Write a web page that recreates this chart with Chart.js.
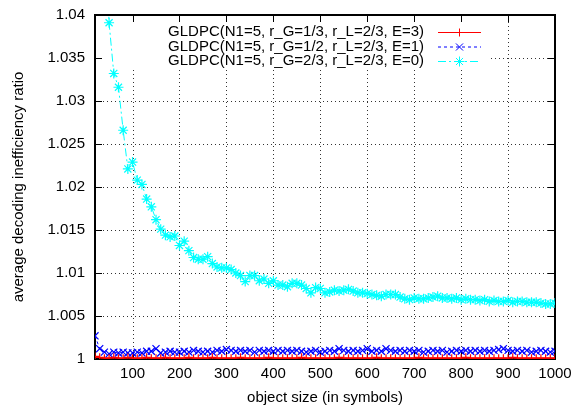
<!DOCTYPE html>
<html>
<head>
<meta charset="utf-8">
<script src="https://cdn.jsdelivr.net/npm/chart.js@4"></script>
<style>
  body { margin: 0; background: #fff; }
  #wrap { width: 572px; height: 407px; }
</style>
</head>
<body>
<div id="wrap"><canvas id="myChart"></canvas></div>
<script>
// object sizes 20..1000 step 10
const sizes = [20, 30, 40, 50, 60, 70, 80, 90, 100, 110, 120, 130, 140, 150, 160, 170, 180, 190, 200,
  210, 220, 230, 240, 250, 260, 270, 280, 290, 300, 310, 320, 330, 340, 350, 360, 370, 380, 390, 400,
  410, 420, 430, 440, 450, 460, 470, 480, 490, 500, 510, 520, 530, 540, 550, 560, 570, 580, 590, 600,
  610, 620, 630, 640, 650, 660, 670, 680, 690, 700, 710, 720, 730, 740, 750, 760, 770, 780, 790, 800,
  810, 820, 830, 840, 850, 860, 870, 880, 890, 900, 910, 920, 930, 940, 950, 960, 970, 980, 990, 1000];

const ratioE3 = [1.0003, 1.0002, 1.0001, 1.0001, 1.0002, 1.0001, 1.0001, 1.0002, 1.0001, 1.0001,
  1.0001, 1.0002, 1.0001, 1.0001, 1.0001, 1.0002, 1.0001, 1.0001, 1.0001, 1.0001, 1.0002, 1.0001,
  1.0001, 1.0001, 1.0001, 1.0002, 1.0001, 1.0001, 1.0001, 1.0001, 1.0001, 1.0002, 1.0001, 1.0001,
  1.0001, 1.0001, 1.0001, 1.0002, 1.0001, 1.0001, 1.0001, 1.0001, 1.0001, 1.0001, 1.0002, 1.0001,
  1.0001, 1.0001, 1.0001, 1.0001, 1.0001, 1.0001, 1.0002, 1.0001, 1.0001, 1.0001, 1.0001, 1.0001,
  1.0001, 1.0001, 1.0002, 1.0001, 1.0001, 1.0001, 1.0001, 1.0001, 1.0001, 1.0001, 1.0001, 1.0002,
  1.0001, 1.0001, 1.0001, 1.0001, 1.0001, 1.0001, 1.0001, 1.0001, 1.0001, 1.0002, 1.0001, 1.0001,
  1.0001, 1.0001, 1.0001, 1.0001, 1.0001, 1.0001, 1.0001, 1.0002, 1.0001, 1.0001, 1.0001, 1.0001,
  1.0001, 1.0001, 1.0001, 1.0001, 1.0001];

const ratioE1 = [1.0027, 1.0012, 1.0008, 1.0006, 1.0008, 1.0007, 1.0008, 1.0007, 1.0007, 1.0008,
  1.0007, 1.0009, 1.0009, 1.0012, 1.0007, 1.0008, 1.0009, 1.0008, 1.0008, 1.0009, 1.0008, 1.0010,
  1.0009, 1.0008, 1.0009, 1.0008, 1.0010, 1.0009, 1.0011, 1.0010, 1.0009, 1.0010, 1.0009, 1.0010,
  1.0008, 1.0010, 1.0009, 1.0010, 1.0009, 1.0010, 1.0009, 1.0010, 1.0009, 1.0010, 1.0009, 1.0008,
  1.0009, 1.0010, 1.0008, 1.0009, 1.0010, 1.0009, 1.0012, 1.0010, 1.0009, 1.0010, 1.0009, 1.0010,
  1.0012, 1.0009, 1.0010, 1.0009, 1.0012, 1.0010, 1.0009, 1.0010, 1.0009, 1.0010, 1.0009, 1.0010,
  1.0008, 1.0009, 1.0010, 1.0009, 1.0010, 1.0008, 1.0009, 1.0010, 1.0009, 1.0010, 1.0009, 1.0010,
  1.0009, 1.0010, 1.0009, 1.0010, 1.0011, 1.0012, 1.0010, 1.0009, 1.0010, 1.0009, 1.0010, 1.0008,
  1.0009, 1.0010, 1.0009, 1.0008, 1.0009];

const ratioE0 = [1.095, 1.07, 1.052, 1.0391, 1.0332, 1.0316, 1.0266, 1.0221, 1.0229, 1.0208,
  1.0203, 1.0186, 1.0177, 1.0162, 1.0151, 1.0144, 1.0142, 1.0143, 1.0132, 1.0137, 1.0126, 1.0118,
  1.0116, 1.0116, 1.0119, 1.0111, 1.0107, 1.0106, 1.0106, 1.0104, 1.0100, 1.0097, 1.0090, 1.0097,
  1.0097, 1.0091, 1.0093, 1.0088, 1.0091, 1.0086, 1.0086, 1.0084, 1.0088, 1.0088, 1.0086, 1.0082,
  1.0077, 1.0083, 1.0082, 1.0077, 1.0078, 1.0080, 1.0079, 1.0080, 1.0081, 1.0079, 1.0077, 1.0077,
  1.0076, 1.0075, 1.0074, 1.0073, 1.0075, 1.0075, 1.0075, 1.0072, 1.0070, 1.0069, 1.0071, 1.0070,
  1.0070, 1.0071, 1.0072, 1.0073, 1.0071, 1.0071, 1.0070, 1.0071, 1.0069, 1.0070, 1.0069, 1.0069,
  1.0068, 1.0069, 1.0067, 1.0068, 1.0067, 1.0067, 1.0068, 1.0066, 1.0067, 1.0067, 1.0066, 1.0066,
  1.0066, 1.0065, 1.0064, 1.0064, 1.0065];

const xTicks = [100, 200, 300, 400, 500, 600, 700, 800, 900, 1000];
const yTicks = [1, 1.005, 1.01, 1.015, 1.02, 1.025, 1.03, 1.035, 1.04];

const labels = [
  'GLDPC(N1=5, r_G=1/3, r_L=2/3, E=3)',
  'GLDPC(N1=5, r_G=1/2, r_L=2/3, E=1)',
  'GLDPC(N1=5, r_G=2/3, r_L=2/3, E=0)',
];

const FONT = 'Liberation Sans, Arial, Helvetica, sans-serif';

function pts(ys) {
  return sizes.map((x, i) => ({ x: x, y: ys[i] }));
}

// dotted grid, white key box over it, then the frame with inward ticks
const framePlugin = {
  id: 'frame',
  beforeDatasetsDraw(chart) {
    const ctx = chart.ctx;
    const a = chart.chartArea;
    const xs = chart.scales.x;
    const ys = chart.scales.y;
    ctx.save();
    ctx.strokeStyle = 'rgba(0,0,0,0.8)';
    ctx.lineWidth = 1;
    ctx.setLineDash([1, 3]);
    ctx.beginPath();
    xTicks.slice(0, -1).forEach(v => {
      const px = Math.round(xs.getPixelForValue(v)) + 0.5;
      ctx.moveTo(px, a.bottom); ctx.lineTo(px, a.top);
    });
    yTicks.slice(1, -1).forEach(v => {
      const py = Math.round(ys.getPixelForValue(v)) + 0.5;
      ctx.moveTo(a.left, py); ctx.lineTo(a.right, py);
    });
    ctx.stroke();
    ctx.setLineDash([]);
    ctx.fillStyle = '#fff';
    ctx.fillRect(a.left + 1, a.top + 1, 490 - a.left, 68 - a.top);
    ctx.strokeStyle = '#000';
    ctx.beginPath();
    xTicks.forEach(v => {
      const px = Math.round(xs.getPixelForValue(v)) + 0.5;
      ctx.moveTo(px, a.bottom); ctx.lineTo(px, a.bottom - 7);
      ctx.moveTo(px, a.top); ctx.lineTo(px, a.top + 7);
    });
    yTicks.forEach(v => {
      const py = Math.round(ys.getPixelForValue(v)) + 0.5;
      ctx.moveTo(a.left, py); ctx.lineTo(a.left + 7, py);
      ctx.moveTo(a.right, py); ctx.lineTo(a.right - 7, py);
    });
    ctx.stroke();
    ctx.lineWidth = 2;
    ctx.strokeRect(a.left, a.top, a.right - a.left, a.bottom - a.top);
    ctx.restore();
  },
};

// gnuplot style key: text right aligned, sample line with marker on the right
const keyPlugin = {
  id: 'key',
  afterDraw(chart) {
    const ctx = chart.ctx;
    ctx.save();
    ctx.font = '15px ' + FONT;
    ctx.textAlign = 'right';
    ctx.textBaseline = 'middle';
    chart.data.datasets.forEach((ds, i) => {
      const y = 32 + i * 14.5;
      ctx.fillStyle = '#000';
      ctx.fillText(ds.label, 424, y);
      ctx.strokeStyle = ds.borderColor;
      ctx.lineWidth = 1;
      ctx.setLineDash(ds.borderDash || []);
      ctx.beginPath();
      ctx.moveTo(438, y + 0.5);
      ctx.lineTo(481, y + 0.5);
      ctx.stroke();
      ctx.setLineDash([]);
      Chart.helpers.drawPoint(ctx, {
        pointStyle: ds.pointStyle, radius: ds.pointRadius, rotation: 0, borderWidth: 1,
      }, 459.5, y + 0.5);
    });
    ctx.restore();
  },
};

const ctx = document.getElementById('myChart').getContext('2d');
const myChart = new Chart(ctx, {
  type: 'line',
  data: {
    datasets: [
      {
        label: labels[0],
        data: pts(ratioE3),
        borderColor: '#ff0000',
        backgroundColor: '#ff0000',
        pointStyle: 'cross',
        pointRadius: 4,
      },
      {
        label: labels[1],
        data: pts(ratioE1),
        borderColor: '#0000ff',
        backgroundColor: '#0000ff',
        borderDash: [3, 3],
        pointStyle: 'crossRot',
        pointRadius: 5,
      },
      {
        label: labels[2],
        data: pts(ratioE0),
        borderColor: '#00ffff',
        backgroundColor: '#00ffff',
        borderDash: [8, 3, 2, 3],
        pointStyle: 'star',
        pointRadius: 5,
      },
    ],
  },
  options: {
    responsive: true,
    maintainAspectRatio: false,
    animation: false,
    events: [],
    layout: { padding: { top: 15, right: 17, left: 0, bottom: 0 } },
    elements: {
      line: { borderWidth: 1, tension: 0 },
      point: { borderWidth: 1.2 },
    },
    plugins: {
      legend: { display: false },
      tooltip: { enabled: false },
    },
    scales: {
      x: {
        type: 'linear',
        min: 20,
        max: 1000,
        afterBuildTicks: s => { s.ticks = xTicks.map(v => ({ value: v })); },
        afterFit: s => { s.height = 48; s.paddingLeft = 0; s.paddingRight = 0; },
        grid: { display: false, drawTicks: false, tickLength: 0 },
        border: { display: false },
        ticks: {
          color: '#000', font: { family: FONT, size: 15 }, padding: 6, maxRotation: 0,
          callback: v => String(v),
        },
        title: {
          display: true, text: 'object size (in symbols)', color: '#000',
          font: { family: FONT, size: 15 }, padding: { top: 0, bottom: 0 },
        },
      },
      y: {
        min: 1,
        max: 1.04,
        afterBuildTicks: s => { s.ticks = yTicks.map(v => ({ value: v })); },
        afterFit: s => { s.width = 95; s.paddingTop = 0; s.paddingBottom = 0; },
        grid: { display: false, drawTicks: false, tickLength: 0 },
        border: { display: false },
        ticks: {
          color: '#000', font: { family: FONT, size: 15 }, padding: 10,
          callback: v => String(+v.toFixed(3)),
        },
        title: {
          display: true, text: 'average decoding inefficiency ratio', color: '#000',
          font: { family: FONT, size: 15 }, padding: { top: 10, bottom: 0 },
        },
      },
    },
  },
  plugins: [framePlugin, keyPlugin],
});
</script>
</body>
</html>
